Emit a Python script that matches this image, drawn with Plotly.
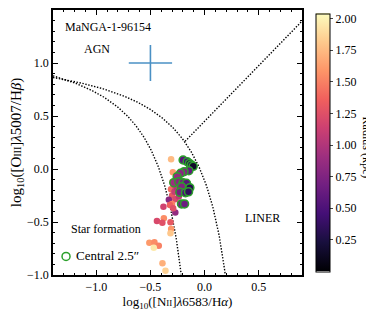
import numpy as np
import plotly.graph_objects as go

# ---- data ----
central_x = [-0.198, -0.160, -0.139, -0.123, -0.105, -0.145, -0.190, -0.222, -0.253, -0.284,
             -0.238, -0.198, -0.167, -0.213, -0.136, -0.228, -0.176, -0.148, -0.213, -0.185]
central_y = [0.085, 0.069, 0.053, 0.038, 0.025, -0.016, -0.025, -0.041, -0.072, -0.129,
             -0.120, -0.130, -0.135, -0.167, -0.176, -0.220, -0.223, -0.215, -0.330, -0.330]
central_r = [0.55, 0.45, 0.20, 0.35, 0.15, 0.60, 0.75, 0.80, 0.85, 0.90,
             0.80, 0.70, 0.55, 0.75, 0.30, 0.70, 0.50, 0.35, 0.70, 0.65]

outer_x = [-0.309, -0.293, -0.296, -0.310, -0.275, -0.300, -0.278, -0.255, -0.330, -0.270,
           -0.238, -0.300, -0.320, -0.380, -0.270, -0.290, -0.376, -0.440, -0.390, -0.315,
           -0.309, -0.315, -0.510, -0.463, -0.423, -0.469, -0.389, -0.361]
outer_y = [0.091, -0.031, -0.120, -0.190, -0.160, -0.250, -0.214, -0.180, -0.290, -0.285,
           -0.260, -0.330, -0.340, -0.355, -0.410, -0.370, -0.465, -0.490, -0.506, -0.503,
           -0.566, -0.607, -0.695, -0.692, -0.723, -0.742, -0.890, -0.959]
outer_r = [1.75, 1.60, 1.55, 1.40, 1.20, 1.30, 1.10, 1.00, 0.80, 1.20,
           1.05, 1.50, 1.35, 1.15, 0.85, 1.25, 1.55, 1.20, 1.25, 1.30,
           1.60, 1.80, 1.60, 1.55, 1.50, 1.95, 1.70, 1.85]

err_x, err_y = [-0.5], [1.0]
err_dx, err_dy = [0.2], [0.17]

cbar_ticks = [0.25, 0.5, 0.75, 1.0, 1.25, 1.5, 1.75, 2.0]
cbar_title = "Radius (kpc)"
x_range = [-1.4, 0.9]
y_range = [-1.0, 1.5]
r_range = [0.0, 2.04]
legend_label = "Central 2.5\u2033"

# ---- demarcation lines (Kauffmann 2003, Kewley 2001, Schawinski 2007) ----
xk = np.linspace(-1.4, -0.216, 300)
yk = 0.61 / (xk - 0.05) + 1.3
xw = np.linspace(-1.4, 0.19, 300)
yw = 0.61 / (xw - 0.47) + 1.19
xl = np.linspace(-0.18, 0.9, 50)
yl = 1.05 * xl + 0.45

FONT = "Liberation Serif, Times New Roman, serif"
fig = go.Figure()
line_style = dict(color="black", width=1.4, dash="1.4px,1.6px")
for lx, ly in [(xk, yk), (xw, yw), (xl, yl)]:
    fig.add_trace(go.Scatter(x=lx, y=ly, mode="lines", line=line_style,
                             showlegend=False, hoverinfo="skip"))

fig.add_trace(go.Scatter(
    x=err_x, y=err_y, mode="markers", marker=dict(size=1, opacity=0),
    error_x=dict(type="data", array=err_dx, width=0, thickness=1.6, color="#4a90c4"),
    error_y=dict(type="data", array=err_dy, width=0, thickness=1.6, color="#4a90c4"),
    showlegend=False))

mk_common = dict(colorscale="Magma", cmin=r_range[0], cmax=r_range[1])
fig.add_trace(go.Scatter(
    x=outer_x, y=outer_y, mode="markers", showlegend=False,
    marker=dict(size=6.5, color=outer_r, line=dict(width=0), **mk_common,
                colorbar=dict(
                    x=1.056, xanchor="left", xpad=0, y=0.5, yanchor="middle", ypad=0,
                    len=0.975, thickness=14, outlinewidth=1, outlinecolor="black",
                    tickvals=cbar_ticks, tickformat=".2f", ticks="outside", ticklen=3,
                    tickfont=dict(family=FONT, size=12, color="black"))),
))
fig.add_trace(go.Scatter(
    x=central_x, y=central_y, mode="markers", showlegend=False,
    marker=dict(size=8, color=central_r, line=dict(width=1.5, color="#2ca02c"), **mk_common),
))
fig.add_trace(go.Scatter(
    x=[None], y=[None], mode="markers", name=" ",
    marker=dict(symbol="circle-open", size=8, color="#2ca02c", line=dict(width=1.5)),
))

ann_font = dict(family=FONT, size=12, color="black")
for txt, ax_, ay_ in [("MaNGA-1-96154", -1.306, 1.34), ("AGN", -1.13, 1.13),
                      ("Star formation", -1.25, -0.566), ("LINER", 0.352, -0.462)]:
    fig.add_annotation(x=ax_, y=ay_, text=txt, showarrow=False, xanchor="left",
                       yanchor="middle", font=ann_font)
fig.add_annotation(x=-1.21, y=-0.82, text=legend_label, showarrow=False, xanchor="left",
                   yanchor="middle", font=dict(family=FONT, size=13, color="black"))
fig.add_annotation(xref="paper", yref="paper", x=1.262, y=0.48, text=cbar_title,
                   textangle=90, showarrow=False, xanchor="center", yanchor="middle",
                   font=dict(family=FONT, size=12, color="black"))

axis_common = dict(showline=True, linecolor="black", linewidth=1.5, mirror="ticks",
                   ticks="inside", ticklen=5, tickcolor="black", tickwidth=1,
                   showgrid=False, zeroline=False,
                   minor=dict(ticks="inside", ticklen=2.5, dtick=0.1, tickcolor="black"),
                   tickfont=dict(family=FONT, size=12, color="black"))
fig.update_xaxes(range=x_range, dtick=0.5, tick0=0, tickformat=".1f",
                 title=dict(text="log<sub>10</sub>([N<span style='font-size:9px'>II</span>]<i>λ</i>6583/H<i>α</i>)",
                            font=dict(family=FONT, size=13, color="black"), standoff=2),
                 **axis_common)
fig.update_yaxes(range=y_range, dtick=0.5, tick0=0, tickformat=".1f",
                 title=dict(text="log<sub>10</sub>([O<span style='font-size:10px'>III</span>]<i>λ</i>5007/H<i>β</i>)",
                            font=dict(family=FONT, size=15, color="black"), standoff=2),
                 **axis_common)

# the page body adds an 8px offset, so the figure is 8px smaller in each direction
fig.update_layout(
    width=366, height=307, margin=dict(l=45, r=72, t=2, b=40, autoexpand=False),
    paper_bgcolor="white", plot_bgcolor="white",
    font=dict(family=FONT, color="black"),
    legend=dict(x=-0.028, y=0.07, xanchor="left", yanchor="middle",
                bgcolor="rgba(0,0,0,0)", font=dict(family=FONT, size=13, color="black"),
                itemwidth=30, tracegroupgap=0),
)
fig.write_html("out.html")
